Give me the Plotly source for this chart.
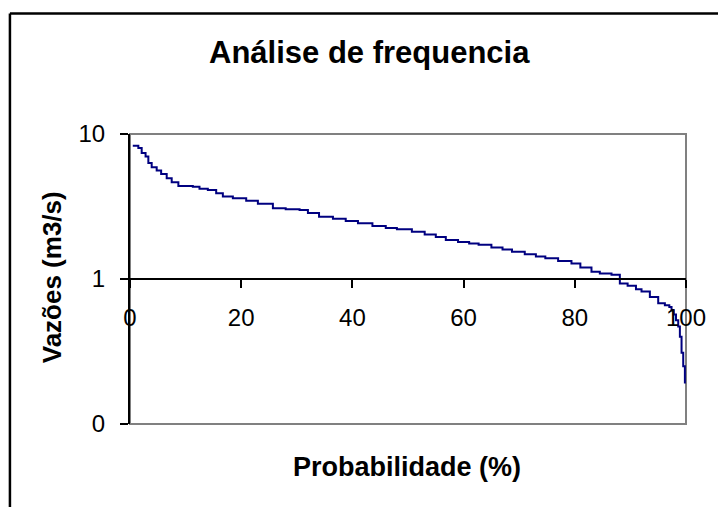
import plotly.graph_objects as go

# Flow duration curve
prob = [0.5, 1.5, 2.1, 2.8, 3.3, 3.9, 4.8, 5.6, 6.6, 7.5, 8.7, 11.3, 12.5, 14, 15.5, 16.7,
        18.5, 20.9, 23, 25.7, 28, 30.5, 32, 34, 36.5, 38.8, 41, 43.6, 46, 48, 50.7, 53,
        55, 56.8, 59, 61, 62.7, 65, 67, 68.7, 71, 73, 74.7, 77, 79.4, 81, 83, 84.5, 86.6,
        88.1, 89.5, 91, 92, 93.5, 95, 96.2, 97, 97.4, 97.8, 98.2, 98.6, 98.9, 99.2, 99.5, 99.8]
flow = [8.3, 8.0, 7.4, 7.0, 6.3, 5.9, 5.6, 5.3, 4.95, 4.65, 4.38, 4.33, 4.2, 4.11, 3.9, 3.70,
        3.6, 3.47, 3.3, 3.07, 3.03, 2.99, 2.85, 2.69, 2.6, 2.51, 2.42, 2.32, 2.25, 2.2, 2.12, 2.03,
        1.95, 1.86, 1.8, 1.76, 1.72, 1.65, 1.6, 1.54, 1.48, 1.43, 1.39, 1.33, 1.28, 1.2, 1.12, 1.09, 1.07,
        0.93, 0.9, 0.85, 0.82, 0.75, 0.68, 0.66, 0.64, 0.61, 0.57, 0.52, 0.47, 0.40, 0.31, 0.25, 0.19]

x_ticks = [0, 20, 40, 60, 80, 100]
y_tickvals = [0.1, 1, 10]
y_ticktext = ["0", "1", "10"]

title_text = "Análise de frequencia"
x_title = "Probabilidade (%)"
y_title = "Vazões (m3/s)"

FONT = "Liberation Sans, Arial, sans-serif"
W, H = 718, 507
L, R, T, B = 130, 30, 134, 83
PW, PH = W - L - R, H - T - B

def px_x(p):
    return (p - L) / PW

def px_y(p):
    return 1 + (T - p) / PH

fig = go.Figure()
fig.add_trace(go.Scatter(x=prob, y=flow, mode="lines", line=dict(color="#000080", width=2, shape="hv"),
                         showlegend=False, hoverinfo="skip"))

shapes = [
    # plot area border (gray)
    dict(type="rect", xref="paper", yref="paper", x0=0, x1=1, y0=0, y1=1,
         line=dict(color="#808080", width=2), layer="below"),
    # outer chart frame (black), partially visible
    dict(type="line", xref="paper", yref="paper", x0=px_x(9.5), x1=px_x(9.5), y0=px_y(13.5), y1=px_y(560),
         line=dict(color="black", width=2.5)),
    dict(type="line", xref="paper", yref="paper", x0=px_x(9.5), x1=px_x(760), y0=px_y(13.5), y1=px_y(13.5),
         line=dict(color="black", width=2.5)),
]

annotations = [
    dict(text="<b>" + title_text + "</b>", xref="paper", yref="paper", x=px_x(370), y=px_y(52),
         xanchor="center", yanchor="middle", showarrow=False, font=dict(family=FONT, size=31, color="black")),
    dict(text="<b>" + x_title + "</b>", xref="paper", yref="paper", x=px_x(408), y=px_y(467),
         xanchor="center", yanchor="middle", showarrow=False, font=dict(family=FONT, size=27, color="black")),
    dict(text="<b>" + y_title + "</b>", xref="paper", yref="paper", x=px_x(52), y=px_y(277),
         xanchor="center", yanchor="middle", showarrow=False, textangle=-90,
         font=dict(family=FONT, size=26, color="black")),
]

fig.update_layout(
    width=W, height=H,
    margin=dict(l=L, r=R, t=T, b=B, pad=0),
    paper_bgcolor="white", plot_bgcolor="white",
    font=dict(family=FONT, size=24, color="black"),
    shapes=shapes, annotations=annotations,
    xaxis=dict(range=[0, 100], tickvals=x_ticks, ticktext=[str(v) for v in x_ticks],
               anchor="free", position=0.5, showline=True, linecolor="black", linewidth=2,
               ticks="outside", ticklen=8, tickwidth=2, tickcolor="black",
               showgrid=False, zeroline=False, ticklabelstandoff=9,
               tickfont=dict(family=FONT, size=24, color="black")),
    yaxis=dict(type="log", range=[-1, 1], tickvals=y_tickvals, ticktext=y_ticktext,
               showline=True, linecolor="black", linewidth=2,
               ticks="outside", ticklen=8, tickwidth=2, tickcolor="black",
               showgrid=False, zeroline=False, ticklabelstandoff=10,
               tickfont=dict(family=FONT, size=24, color="black")),
)

fig.write_html("out.html", config={"displayModeBar": False},
               post_script="document.body.style.margin='0';document.body.style.overflow='hidden';")
